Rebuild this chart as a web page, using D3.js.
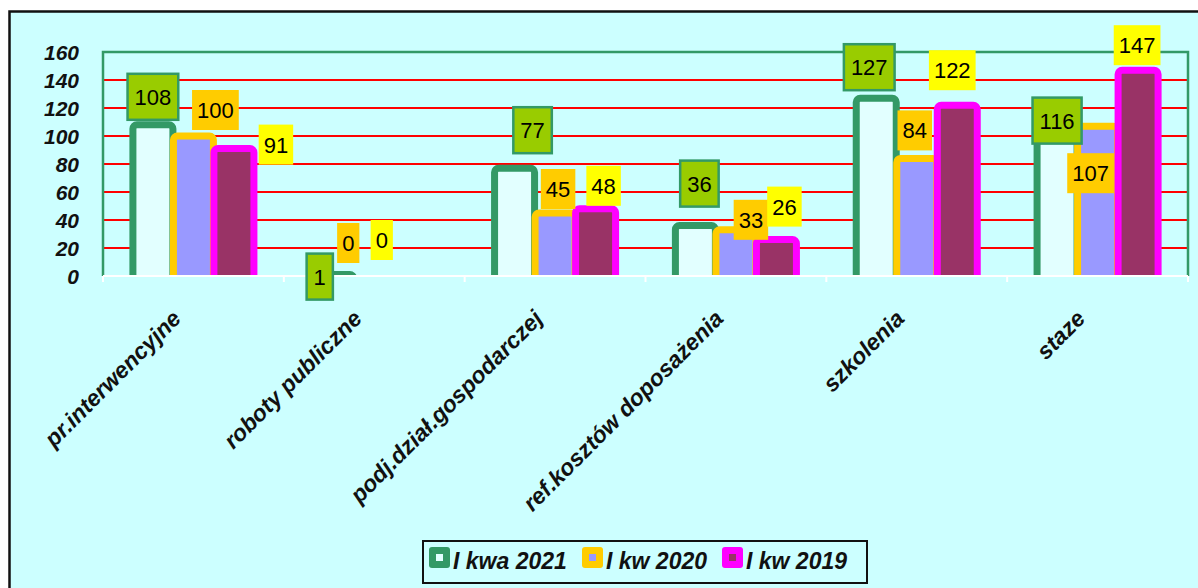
<!DOCTYPE html>
<html>
<head>
<meta charset="utf-8">
<script src="https://cdn.jsdelivr.net/npm/d3@7"></script>
<style>
  body { margin: 0; background: #fff; }
  svg { display: block; font-family: "Liberation Sans", Arial, sans-serif; }
</style>
</head>
<body>
<div id="chart"></div>
<script>
// data
var categories = ["pr.interwencyjne", "roboty publiczne", "podj.dział.gospodarczej",
                  "ref.kosztów doposażenia", "szkolenia", "staze"];
var seriesNames = ["I kwa 2021", "I kw 2020", "I kw 2019"];
var kw2021 = [108, 1, 77, 36, 127, 116];
var kw2020 = [100, 0, 45, 33, 84, 107];
var kw2019 = [91, 0, 48, 26, 122, 147];
var yTicks = [0, 20, 40, 60, 80, 100, 120, 140, 160];

// label nudges (px) from bar top centre, as placed in the original
var nudge2021 = [[0, -28], [-14, 2], [18, -38], [4, -42], [-7, -31], [0, 7]];
var nudge2020 = [[22, -26], [-26, -33], [3, -24], [15, -10], [-2, -28], [-7, 47]];
var nudge2019 = [[42, -4], [-33, -36], [8, -23], [8, -33], [-5, -35], [-1, -25]];

var values = [kw2021, kw2020, kw2019];
var nudges = [nudge2021, nudge2020, nudge2019];

var barStroke = ["#339966", "#FFCC00", "#FF00FF"];
var barFill = ["#E2FFFF", "#9999FF", "#993366"];
var labelFill = ["#99CC00", "#FFCC00", "#FFFF00"];

var W = 1198, H = 588;
var plotL = 103, plotR = 1188, plotT = 52, plotB = 276;

var svg = d3.select("#chart").append("svg")
    .attr("width", W)
    .attr("height", H);

// outer frame
svg.append("rect")
    .attr("x", 9.5).attr("y", 11.5)
    .attr("width", W + 20).attr("height", H + 20)
    .attr("fill", "#CCFFFF")
    .attr("stroke", "#111")
    .attr("stroke-width", 2.5);

var x0 = d3.scaleBand().domain(categories).range([plotL, plotR]).padding(0);
var x1 = d3.scaleBand().domain(seriesNames).range([0, x0.bandwidth()])
    .paddingInner(0).paddingOuter(0.732);
var y = d3.scaleLinear().domain([0, 160]).range([plotB, plotT]);

// gridlines
svg.append("g").selectAll("line")
    .data(yTicks.filter(function(d) { return d > 0 && d < 160; }))
    .enter().append("line")
    .attr("x1", plotL).attr("x2", plotR)
    .attr("y1", function(d) { return y(d); })
    .attr("y2", function(d) { return y(d); })
    .attr("stroke", "#FF0000")
    .attr("stroke-width", 2);

// plot border (top, left, right)
svg.append("path")
    .attr("d", "M" + plotL + "," + plotB + "V" + plotT + "H" + plotR + "V" + plotB)
    .attr("fill", "none")
    .attr("stroke", "#339966")
    .attr("stroke-width", 2.5);

// y labels
svg.append("g").selectAll("text")
    .data(yTicks)
    .enter().append("text")
    .attr("x", 79)
    .attr("y", function(d) { return y(d) + 7.5; })
    .attr("text-anchor", "end")
    .attr("font-size", 21)
    .attr("font-weight", "bold")
    .attr("font-style", "italic")
    .attr("fill", "#111")
    .text(function(d) { return d; });

// bars
svg.append("clipPath").attr("id", "plotclip")
    .append("rect")
    .attr("x", 0).attr("y", 0).attr("width", W).attr("height", plotB);

var bw = 40;
var bars = svg.append("g").attr("clip-path", "url(#plotclip)");
seriesNames.forEach(function(s, si) {
    bars.append("g").selectAll("rect")
        .data(values[si].map(function(v, i) { return {cat: categories[i], v: v}; })
              .filter(function(d) { return d.v > 0; }))
        .enter().append("rect")
        .attr("x", function(d) { return x0(d.cat) + x1(s) + x1.bandwidth() / 2 - bw / 2; })
        .attr("y", function(d) { return y(d.v); })
        .attr("width", bw)
        .attr("height", function(d) { return plotB - y(d.v) + 10; })
        .attr("rx", 4)
        .attr("fill", barFill[si])
        .attr("stroke", barStroke[si])
        .attr("stroke-width", 7);
});

// category axis line + ticks
var ax = svg.append("g");
ax.append("line")
    .attr("x1", plotL).attr("x2", plotR)
    .attr("y1", plotB).attr("y2", plotB)
    .attr("stroke", "#fff").attr("stroke-width", 2);
ax.selectAll("line.tk")
    .data(categories.map(function(c) { return x0(c); }).concat([plotR]))
    .enter().append("line")
    .attr("class", "tk")
    .attr("x1", function(d) { return d; }).attr("x2", function(d) { return d; })
    .attr("y1", plotB).attr("y2", plotB + 6)
    .attr("stroke", "#fff").attr("stroke-width", 2);

// category labels
svg.append("g").selectAll("text")
    .data(categories)
    .enter().append("text")
    .attr("transform", function(d) {
        return "translate(" + (x0(d) + x0.bandwidth() / 2 - 11) + "," + (plotB + 44) + ") rotate(-45)";
    })
    .attr("text-anchor", "end")
    .attr("font-size", 23)
    .attr("font-weight", "bold")
    .attr("font-style", "italic")
    .attr("fill", "#111")
    .text(function(d) { return d; });

// data labels
var labels = svg.append("g");
seriesNames.forEach(function(s, si) {
    values[si].forEach(function(v, i) {
        var cx = x0(categories[i]) + x1(s) + x1.bandwidth() / 2 + nudges[si][i][0];
        var cy = y(v) + nudges[si][i][1];
        var g = labels.append("g");
        var box = g.append("rect");
        var t = g.append("text")
            .attr("x", cx).attr("y", cy + 8)
            .attr("text-anchor", "middle")
            .attr("font-size", 22)
            .attr("fill", "#000")
            .text(v);
        var tw = t.node().getComputedTextLength();
        var bwid = si === 0 ? tw + 14 : tw + 10;
        var bh = si === 0 ? 46 : 40;
        box.attr("x", cx - bwid / 2).attr("y", cy - bh / 2)
            .attr("width", bwid).attr("height", bh)
            .attr("fill", labelFill[si])
            .attr("stroke", si === 0 ? "#339966" : "none")
            .attr("stroke-width", 2.5);
    });
});

// legend
var lg = svg.append("g");
lg.append("rect")
    .attr("x", 423).attr("y", 541)
    .attr("width", 444).attr("height", 42)
    .attr("fill", "none")
    .attr("stroke", "#111")
    .attr("stroke-width", 2);
var legX = [429, 582, 722];
seriesNames.forEach(function(s, si) {
    var it = lg.append("g").attr("transform", "translate(" + legX[si] + ",547)");
    it.append("rect")
        .attr("width", 21).attr("height", 21).attr("rx", 3)
        .attr("fill", barStroke[si]);
    it.append("rect")
        .attr("x", 7).attr("y", 7).attr("width", 7).attr("height", 7)
        .attr("fill", si === 0 ? "#E2FFFF" : barFill[si]);
    it.append("text")
        .attr("x", 24).attr("y", 22)
        .attr("font-size", 23)
        .attr("font-weight", "bold")
        .attr("font-style", "italic")
        .attr("fill", "#111")
        .text(s);
});
</script>
</body>
</html>
